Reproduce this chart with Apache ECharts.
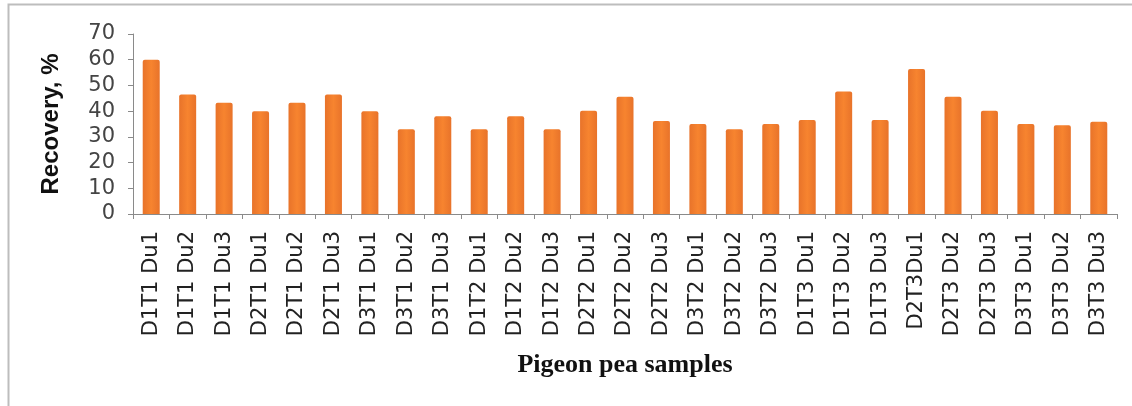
<!DOCTYPE html>
<html>
<head>
<meta charset="utf-8">
<script src="https://cdn.jsdelivr.net/npm/echarts@6/dist/echarts.min.js"></script>
<style>
  html, body { margin: 0; padding: 0; background: #fff; }
  #chart { width: 1132px; height: 406px; }
</style>
</head>
<body>
<div id="chart"></div>
<script>
// 样品名称
const samples = [
    'D1T1 Du1', 'D1T1 Du2', 'D1T1 Du3', 'D2T1 Du1', 'D2T1 Du2', 'D2T1 Du3',
    'D3T1 Du1', 'D3T1 Du2', 'D3T1 Du3', 'D1T2 Du1', 'D1T2 Du2', 'D1T2 Du3',
    'D2T2 Du1', 'D2T2 Du2', 'D2T2 Du3', 'D3T2 Du1', 'D3T2 Du2', 'D3T2 Du3',
    'D1T3 Du1', 'D1T3 Du2', 'D1T3 Du3', 'D2T3Du1', 'D2T3 Du2', 'D2T3 Du3',
    'D3T3 Du1', 'D3T3 Du2', 'D3T3 Du3'
];
// 回收率 %
const recovery = [
    60, 46.5, 43.3, 40, 43.3, 46.5,
    40, 33, 38, 33, 38, 33,
    40.2, 45.6, 36.2, 35, 33, 35,
    36.6, 47.6, 36.6, 56.4, 45.6, 40.2,
    35, 34.5, 35.9
];
const yTicks = { min: 0, max: 70, interval: 10 };

var myChart = echarts.init(document.getElementById('chart'));
const options = {
    animation: false,
    graphic: [
        {
            type: 'polyline',
            shape: { points: [[8.5, 406], [8.5, 4.5], [1132, 4.5]] },
            style: { stroke: '#bdbdbd', lineWidth: 2, fill: null },
        }
    ],
    grid: { left: 133, right: 15, top: 34, bottom: 192 },
    xAxis: {
        type: 'category',
        data: samples,
        name: 'Pigeon pea samples',
        nameLocation: 'middle',
        nameGap: 138,
        nameTextStyle: {
            fontFamily: 'Liberation Serif',
            fontWeight: 'bold',
            fontSize: 26,
            color: '#111',
        },
        axisLine: { lineStyle: { color: '#8a8a8a', width: 1 } },
        axisTick: { show: true, length: 5, lineStyle: { color: '#8a8a8a' } },
        axisLabel: {
            rotate: 90,
            interval: 0,
            margin: 17,
            fontFamily: 'DejaVu Sans',
            fontSize: 21,
            color: '#222',
        },
    },
    yAxis: {
        type: 'value',
        min: yTicks.min,
        max: yTicks.max,
        interval: yTicks.interval,
        name: 'Recovery, %',
        nameLocation: 'middle',
        nameGap: 70,
        nameTextStyle: {
            fontFamily: 'Liberation Sans',
            fontWeight: 'bold',
            fontSize: 24,
            color: '#111',
        },
        axisLine: { show: true, lineStyle: { color: '#8a8a8a', width: 1 } },
        axisTick: { show: true, length: 5, lineStyle: { color: '#8a8a8a' } },
        axisLabel: {
            margin: 18,
            fontFamily: 'DejaVu Sans',
            fontSize: 21,
            color: '#444',
        },
        splitLine: { show: false },
    },
    series: [
        {
            type: 'bar',
            data: recovery,
            barWidth: 17,
            itemStyle: {
                color: new echarts.graphic.LinearGradient(0, 0, 1, 0, [
                    { offset: 0, color: '#e8732a' },
                    { offset: 0.5, color: '#f7842f' },
                    { offset: 1, color: '#e8732a' },
                ]),
                borderRadius: [2, 2, 0, 0],
            },
        }
    ]
};
myChart.setOption(options);
</script>
</body>
</html>
